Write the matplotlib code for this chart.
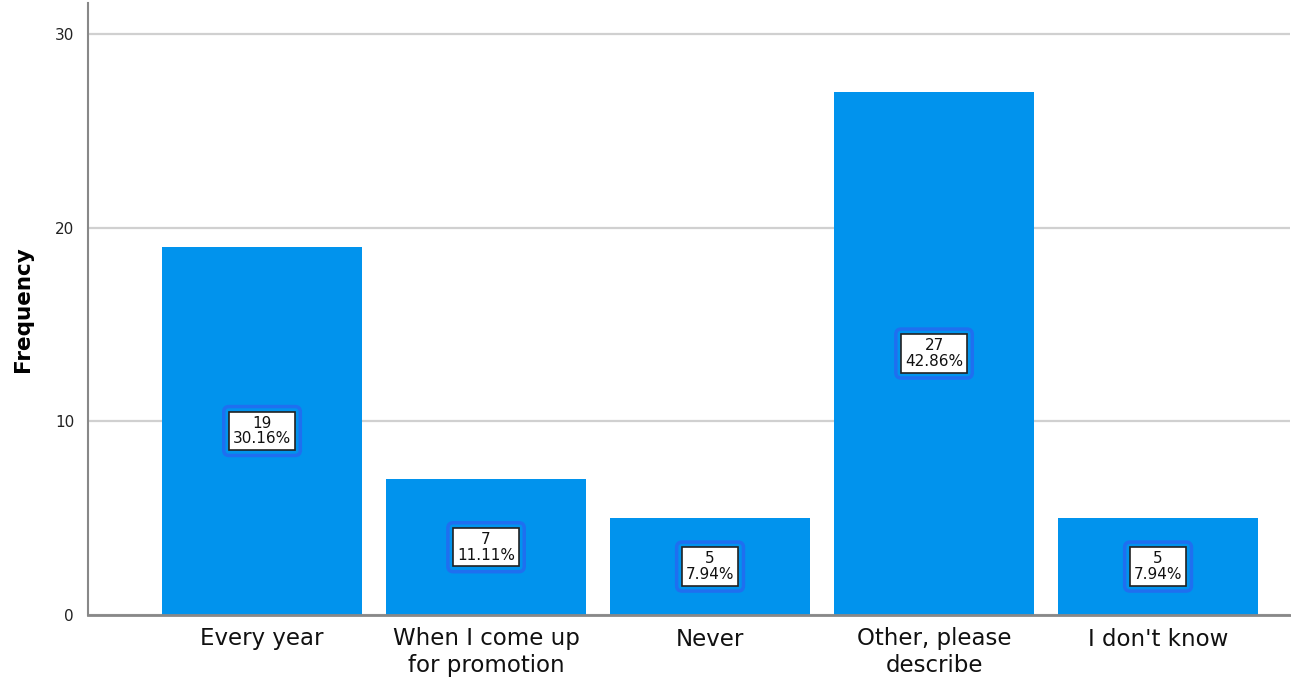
import matplotlib.pyplot as plt
import numpy as np

# response categories and counts
categories = ['Every year', 'When I come up\nfor promotion', 'Never',
              'Other, please\ndescribe', "I don't know"]
counts = [19, 7, 5, 27, 5]
yticks = [0, 10, 20, 30]

total = sum(counts)
pos = np.arange(len(categories))

fig = plt.figure(figsize=(12.91, 6.77), dpi=100)
ax = fig.add_axes([88 / 1291, 62 / 677, 1202 / 1291, 612 / 677])

bar_color = '#0193ED'
ax.bar(pos, counts, width=0.893, color=bar_color, zorder=2)

ax.set_xlim(-0.777, 4.589)
ax.set_ylim(0, 31.6)
ax.set_yticks(yticks)
ax.set_yticklabels([str(t) for t in yticks], fontsize=11, color='#222222')
ax.set_xticks(pos)
ax.set_xticklabels(categories, fontsize=16.5, color='#111111', linespacing=1.2)
ax.tick_params(axis='both', length=0)
ax.tick_params(axis='y', pad=10)
ax.tick_params(axis='x', pad=9)

ax.grid(axis='y', color='#d0d0d0', lw=1.6, zorder=0)
for s in ['top', 'right']:
    ax.spines[s].set_visible(False)
ax.spines['left'].set_color('#888888')
ax.spines['left'].set_linewidth(1.5)
ax.spines['bottom'].set_color('#888888')
ax.spines['bottom'].set_linewidth(2)

ax.set_ylabel('Frequency', fontsize=15.5, fontweight='bold', labelpad=16)

# count / percent labels in the middle of each bar
for x, c in zip(pos, counts):
    label = f'{c}\n{c / total * 100:.2f}%'
    ax.text(x, c / 2, label, ha='center', va='center', fontsize=11,
            linespacing=1.05, color='none', zorder=3,
            bbox=dict(boxstyle='round,pad=0.6,rounding_size=0.35',
                      facecolor='none', edgecolor='#1f6ff0', lw=2.5))
    ax.text(x, c / 2, label, ha='center', va='center', fontsize=11,
            linespacing=1.05, color='#111111', zorder=4,
            bbox=dict(boxstyle='square,pad=0.25', facecolor='white',
                      edgecolor='#222222', lw=1.2))

fig.savefig('out.png', dpi=100)
